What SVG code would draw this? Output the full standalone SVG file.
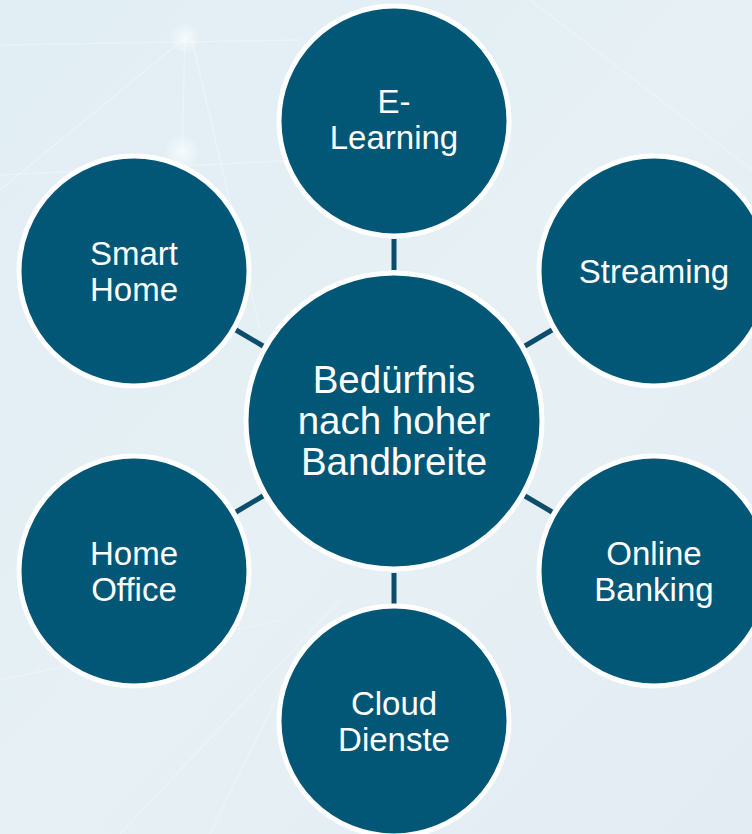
<svg xmlns="http://www.w3.org/2000/svg" width="752" height="834" viewBox="0 0 752 834">
<defs>
<linearGradient id="bg" x1="0" y1="0" x2="1" y2="1">
<stop offset="0" stop-color="#e1eef4"/>
<stop offset="0.5" stop-color="#e6f0f5"/>
<stop offset="1" stop-color="#e2ecf2"/>
</linearGradient>
<radialGradient id="glow">
<stop offset="0" stop-color="#ffffff" stop-opacity="0.7"/>
<stop offset="1" stop-color="#ffffff" stop-opacity="0"/>
</radialGradient>
<style>
.node{fill:#025777;stroke:#ffffff;stroke-width:5}
.lbl{font-family:"Liberation Sans",Arial,sans-serif;font-size:33px;fill:#ffffff;text-anchor:middle}
.big{font-size:38.5px}
.conn line{stroke:#0b4d6b;stroke-width:5}
.net line{stroke:#ffffff;stroke-width:1.5;opacity:0.3}
</style>
</defs>
<rect width="752" height="834" fill="url(#bg)"/>
<g class="net">
<line x1="0" y1="45" x2="300" y2="40"/>
<line x1="185" y1="38" x2="0" y2="190"/>
<line x1="185" y1="38" x2="182" y2="150"/>
<line x1="192" y1="40" x2="260" y2="330"/>
<line x1="0" y1="175" x2="300" y2="160"/>
<line x1="530" y1="0" x2="752" y2="170"/>
<line x1="300" y1="650" x2="210" y2="834"/>
<line x1="340" y1="600" x2="120" y2="834"/>
<line x1="0" y1="680" x2="280" y2="620"/>
</g>
<circle cx="185" cy="38" r="16" fill="url(#glow)"/>
<circle cx="182" cy="152" r="18" fill="url(#glow)"/>
<g class="conn" id="connectors">
<line x1="394" y1="239" x2="394" y2="270"/>
<line x1="394" y1="573" x2="394" y2="604"/>
<line x1="236" y1="330" x2="263" y2="346"/>
<line x1="552" y1="330" x2="525" y2="346"/>
<line x1="236" y1="512" x2="263" y2="496"/>
<line x1="552" y1="512" x2="525" y2="496"/>
</g>
<g id="center">
<circle class="node" cx="394" cy="421" r="148"/>
<text class="lbl big" x="394" y="393">Bedürfnis</text>
<text class="lbl big" x="394" y="434">nach hoher</text>
<text class="lbl big" x="394" y="475">Bandbreite</text>
</g>
<g id="elearning">
<circle class="node" cx="394" cy="121" r="115"/>
<text class="lbl" x="394" y="113">E-</text>
<text class="lbl" x="394" y="149">Learning</text>
</g>
<g id="streaming">
<circle class="node" cx="654" cy="271" r="115"/>
<text class="lbl" x="654" y="283">Streaming</text>
</g>
<g id="onlinebanking">
<circle class="node" cx="654" cy="571" r="115"/>
<text class="lbl" x="654" y="565">Online</text>
<text class="lbl" x="654" y="601">Banking</text>
</g>
<g id="cloud">
<circle class="node" cx="394" cy="721" r="115"/>
<text class="lbl" x="394" y="715">Cloud</text>
<text class="lbl" x="394" y="751">Dienste</text>
</g>
<g id="homeoffice">
<circle class="node" cx="134" cy="571" r="115"/>
<text class="lbl" x="134" y="565">Home</text>
<text class="lbl" x="134" y="601">Office</text>
</g>
<g id="smarthome">
<circle class="node" cx="134" cy="271" r="115"/>
<text class="lbl" x="134" y="265">Smart</text>
<text class="lbl" x="134" y="301">Home</text>
</g>
</svg>
